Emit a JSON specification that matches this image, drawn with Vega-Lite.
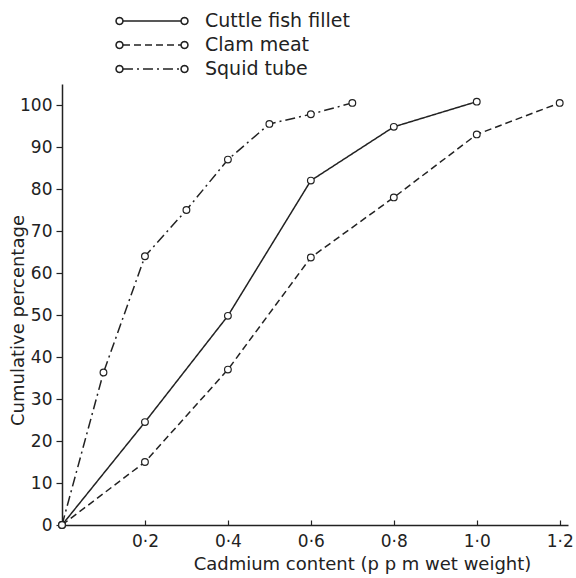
{
  "$schema": "https://vega.github.io/schema/vega-lite/v6.json",
  "width": 506,
  "height": 441,
  "autosize": "none",
  "padding": {"left": 62, "top": 84, "right": 8, "bottom": 53},
  "background": "white",
  "config": {
    "view": {"stroke": null},
    "font": "DejaVu Sans",
    "axis": {
      "grid": false,
      "domainColor": "#222",
      "domainWidth": 1.5,
      "tickColor": "#222",
      "tickWidth": 1.2,
      "labelColor": "#222",
      "titleColor": "#222",
      "labelFont": "DejaVu Sans",
      "titleFont": "DejaVu Sans",
      "labelFontSize": 17,
      "titleFontSize": 18,
      "titleFontWeight": "normal"
    },
    "legend": {"labelFont": "DejaVu Sans", "labelFontSize": 19, "labelColor": "#222"}
  },
  "data": {
    "values": [
      {"series": "Cuttle fish fillet", "cd": 0, "pct": 0},
      {"series": "Cuttle fish fillet", "cd": 0.2, "pct": 24.5},
      {"series": "Cuttle fish fillet", "cd": 0.4, "pct": 49.8},
      {"series": "Cuttle fish fillet", "cd": 0.6, "pct": 82},
      {"series": "Cuttle fish fillet", "cd": 0.8, "pct": 94.8},
      {"series": "Cuttle fish fillet", "cd": 1.0, "pct": 100.8},
      {"series": "Clam meat", "cd": 0, "pct": 0},
      {"series": "Clam meat", "cd": 0.2, "pct": 15},
      {"series": "Clam meat", "cd": 0.4, "pct": 37},
      {"series": "Clam meat", "cd": 0.6, "pct": 63.7},
      {"series": "Clam meat", "cd": 0.8, "pct": 78},
      {"series": "Clam meat", "cd": 1.0, "pct": 93},
      {"series": "Clam meat", "cd": 1.2, "pct": 100.5},
      {"series": "Squid tube", "cd": 0, "pct": 0},
      {"series": "Squid tube", "cd": 0.1, "pct": 36.3},
      {"series": "Squid tube", "cd": 0.2, "pct": 64},
      {"series": "Squid tube", "cd": 0.3, "pct": 75},
      {"series": "Squid tube", "cd": 0.4, "pct": 87},
      {"series": "Squid tube", "cd": 0.5, "pct": 95.5},
      {"series": "Squid tube", "cd": 0.6, "pct": 97.8},
      {"series": "Squid tube", "cd": 0.7, "pct": 100.5}
    ]
  },
  "encoding": {
    "x": {
      "field": "cd",
      "type": "quantitative",
      "scale": {"domain": [0, 1.22], "nice": false},
      "axis": {
        "values": [0.2, 0.4, 0.6, 0.8, 1.0, 1.2],
        "labelExpr": "replace(format(datum.value, '.1f'), '.', '·')",
        "title": "Cadmium content (p p m wet weight)",
        "tickSize": -5,
        "labelPadding": 13,
        "titlePadding": 6,
        "titleX": 300
      }
    },
    "y": {
      "field": "pct",
      "type": "quantitative",
      "scale": {"domain": [0, 105], "nice": false},
      "axis": {
        "values": [0, 10, 20, 30, 40, 50, 60, 70, 80, 90, 100],
        "title": "Cumulative percentage",
        "tickSize": 6,
        "labelPadding": 4,
        "titleX": -44,
        "titleY": 236,
        "titleBaseline": "middle"
      }
    }
  },
  "layer": [
    {
      "mark": {"type": "line", "strokeWidth": 1.5, "color": "#222"},
      "encoding": {
        "strokeDash": {
          "field": "series",
          "type": "nominal",
          "scale": {
            "domain": ["Cuttle fish fillet", "Clam meat", "Squid tube"],
            "range": [[1, 0], [7, 4], [10, 4, 2, 4]]
          },
          "legend": {
            "title": null,
            "orient": "none",
            "legendX": 79,
            "legendY": -74,
            "padding": 0,
            "symbolType": "M-2.9,0L2.9,0",
            "symbolSize": 400,
            "labelOffset": 42,
            "rowPadding": 3,
            "encode": {
              "symbols": {
                "update": {
                  "stroke": {"value": "#222"},
                  "strokeWidth": {"value": 1.5},
                  "fill": {"value": "transparent"}
                }
              }
            }
          }
        }
      }
    },
    {
      "mark": {"type": "point", "shape": "circle", "filled": true, "stroke": "#222", "strokeWidth": 1.2, "size": 45, "opacity": 1},
      "encoding": {
        "fill": {
          "field": "series",
          "type": "nominal",
          "sort": ["Cuttle fish fillet", "Clam meat", "Squid tube"],
          "scale": {"range": ["white", "white", "white"]},
          "legend": {
            "title": null,
            "orient": "none",
            "legendX": 79,
            "legendY": -74,
            "padding": 0,
            "symbolType": "M-2.9,0L-2.947,0.175L-3.075,0.303L-3.25,0.35L-3.425,0.303L-3.553,0.175L-3.6,0L-3.553,-0.175L-3.425,-0.303L-3.25,-0.35L-3.075,-0.303L-2.947,-0.175ZM3.6,0L3.553,0.175L3.425,0.303L3.25,0.35L3.075,0.303L2.947,0.175L2.9,0L2.947,-0.175L3.075,-0.303L3.25,-0.35L3.425,-0.303L3.553,-0.175Z",
            "symbolSize": 400,
            "labelOffset": 42,
            "rowPadding": 3,
            "labelColor": "transparent",
            "encode": {
              "symbols": {
                "update": {
                  "stroke": {"value": "#222"},
                  "strokeWidth": {"value": 1.2},
                  "fill": {"value": "white"},
                  "opacity": {"value": 1}
                }
              }
            }
          }
        }
      }
    }
  ]
}
